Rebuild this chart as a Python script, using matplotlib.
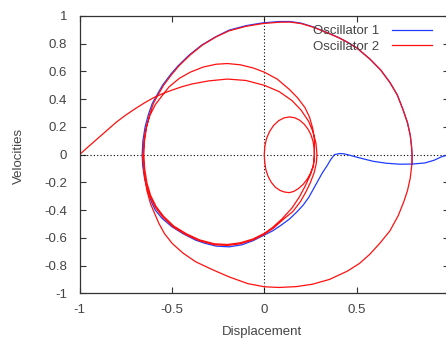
import matplotlib
matplotlib.use("Agg")
import matplotlib.pyplot as plt

# Oscillator 1 phase trajectory (displacement, velocity)
osc1_x = [1.00, 0.96, 0.92, 0.87, 0.80, 0.734, 0.66, 0.589, 0.52, 0.462, 0.43, 0.408,
          0.38, 0.36, 0.34, 0.315, 0.29, 0.265, 0.24, 0.21, 0.175, 0.136, 0.09, 0.045,
          0.0, -0.06, -0.12, -0.19, -0.26, -0.32, -0.371, -0.44, -0.50, -0.553, -0.59,
          -0.607, -0.63, -0.648, -0.658, -0.661,
          -0.657, -0.645, -0.627, -0.606, -0.581, -0.551, -0.506, -0.467, -0.405, -0.339,
          -0.263, -0.19, -0.10, -0.01, 0.08, 0.14, 0.20, 0.263, 0.33, 0.40, 0.444, 0.50,
          0.571, 0.63, 0.68, 0.72, 0.752, 0.775, 0.79, 0.797, 0.80, 0.80]
osc1_v = [0.00, -0.015, -0.04, -0.06, -0.068, -0.069, -0.062, -0.048, -0.025, -0.004, 0.006, 0.008,
          0.0, -0.035, -0.08, -0.13, -0.19, -0.25, -0.31, -0.365, -0.415, -0.465, -0.51, -0.55,
          -0.58, -0.62, -0.65, -0.665, -0.66, -0.64, -0.617, -0.57, -0.52, -0.46, -0.40,
          -0.353, -0.27, -0.17, -0.08, 0.0,
          0.10, 0.20, 0.29, 0.37, 0.43, 0.50, 0.58, 0.64, 0.72, 0.79,
          0.85, 0.898, 0.93, 0.95, 0.96, 0.96, 0.948, 0.922, 0.886, 0.846, 0.816, 0.771,
          0.691, 0.611, 0.521, 0.431, 0.321, 0.231, 0.141, 0.061, 0.0, -0.068]

# Oscillator 2 phase trajectory, starting from rest at -1
osc2_x = [
    # first swing
    -1.00, -0.95, -0.90, -0.85, -0.80, -0.75, -0.70, -0.65, -0.60, -0.55, -0.50, -0.45,
    -0.39, -0.30, -0.20, -0.10, 0.00, 0.08, 0.15, 0.20, 0.24, 0.265, 0.28, 0.285,
    # inner lower half
    0.282, 0.27, 0.25, 0.225, 0.195, 0.155, 0.10, 0.05, 0.0, -0.06, -0.13, -0.20,
    -0.27, -0.35, -0.42, -0.49, -0.55, -0.59, -0.62, -0.64, -0.652, -0.656,
    # up the left side, middle arc
    -0.652, -0.64, -0.62, -0.59, -0.55, -0.516, -0.46, -0.40, -0.33, -0.26, -0.20,
    -0.13, -0.06, 0.0, 0.07, 0.136, 0.18, 0.22, 0.245, 0.262, 0.272,
    # small loop
    0.270, 0.263, 0.250, 0.232, 0.210, 0.185, 0.160, 0.136, 0.110, 0.085, 0.060, 0.038,
    0.020, 0.008, 0.002, 0.0, 0.003, 0.012, 0.028, 0.050, 0.078, 0.107, 0.136, 0.165,
    0.192, 0.216, 0.236, 0.252, 0.263, 0.270, 0.272,
    # inner lower half again
    0.266, 0.248, 0.222, 0.19, 0.15, 0.095, 0.045, 0.0, -0.06, -0.13, -0.20, -0.27,
    -0.35, -0.42, -0.49, -0.545, -0.585, -0.615, -0.635, -0.647, -0.652,
    # big orbit
    -0.648, -0.637, -0.62, -0.60, -0.575, -0.545, -0.50, -0.462, -0.40, -0.335, -0.26,
    -0.19, -0.10, -0.01, 0.08, 0.14, 0.20, 0.263, 0.33, 0.40, 0.444, 0.50, 0.571,
    0.63, 0.68, 0.72, 0.752, 0.775, 0.79, 0.797, 0.80,
    0.798, 0.79, 0.775, 0.755, 0.725, 0.68, 0.625, 0.57, 0.515, 0.45, 0.353, 0.26,
    0.172, 0.08, 0.0, -0.09, -0.19, -0.28, -0.371, -0.44, -0.498, -0.54, -0.57,
    -0.595, -0.616, -0.635, -0.648, -0.655, -0.656]
osc2_v = [
    0.000, 0.060, 0.118, 0.175, 0.235, 0.285, 0.330, 0.372, 0.410, 0.440, 0.465, 0.488,
    0.510, 0.532, 0.545, 0.535, 0.500, 0.455, 0.390, 0.320, 0.240, 0.160, 0.080, 0.0,
    -0.06, -0.13, -0.20, -0.27, -0.34, -0.41, -0.47, -0.53, -0.575, -0.615, -0.643, -0.655,
    -0.65, -0.622, -0.58, -0.525, -0.45, -0.38, -0.30, -0.21, -0.11, 0.0,
    0.10, 0.19, 0.28, 0.36, 0.43, 0.488, 0.55, 0.595, 0.632, 0.652, 0.657,
    0.648, 0.625, 0.595, 0.545, 0.47, 0.41, 0.34, 0.27, 0.19, 0.10,
    -0.04, -0.09, -0.135, -0.178, -0.215, -0.245, -0.265, -0.274, -0.270, -0.258, -0.235, -0.200,
    -0.155, -0.105, -0.05, 0.0, 0.06, 0.115, 0.165, 0.210, 0.245, 0.265, 0.272, 0.266,
    0.248, 0.220, 0.185, 0.145, 0.100, 0.050, 0.0,
    -0.08, -0.15, -0.225, -0.305, -0.385, -0.465, -0.525, -0.568, -0.608, -0.636, -0.648, -0.643,
    -0.615, -0.572, -0.515, -0.445, -0.375, -0.295, -0.205, -0.105, 0.0,
    0.10, 0.20, 0.29, 0.37, 0.43, 0.50, 0.58, 0.64, 0.72, 0.79, 0.85,
    0.893, 0.925, 0.945, 0.955, 0.956, 0.945, 0.92, 0.885, 0.845, 0.815, 0.77, 0.69,
    0.61, 0.52, 0.43, 0.32, 0.23, 0.14, 0.06, 0.0,
    -0.08, -0.17, -0.26, -0.34, -0.44, -0.55, -0.64, -0.72, -0.785, -0.84, -0.90, -0.935,
    -0.952, -0.958, -0.953, -0.93, -0.882, -0.83, -0.773, -0.71, -0.641, -0.57, -0.497,
    -0.42, -0.353, -0.26, -0.16, -0.06, 0.0]

x_ticks = [-1, -0.5, 0, 0.5]
x_tick_labels = ["-1", "-0.5", "0", "0.5"]
y_ticks = [1, 0.8, 0.6, 0.4, 0.2, 0, -0.2, -0.4, -0.6, -0.8, -1]
y_tick_labels = ["1", "0.8", "0.6", "0.4", "0.2", "0", "-0.2", "-0.4", "-0.6", "-0.8", "-1"]

plt.rcParams["font.family"] = ["Liberation Sans", "DejaVu Sans"]
plt.rcParams["font.size"] = 9.5

text_color = "#444444"
frame_color = "#333333"

fig = plt.figure(figsize=(4.46, 3.40), dpi=100)
ax = fig.add_axes([0.1783, 0.1374, 0.8285, 0.8156])

# zero axes
ax.axhline(0, color="black", linestyle=(0, (1, 2)), linewidth=0.8)
ax.axvline(0, color="black", linestyle=(0, (1, 2)), linewidth=0.8)

ax.plot(osc1_x, osc1_v, color="#1f3cff", linewidth=0.9, label="Oscillator 1")
ax.plot(osc2_x, osc2_v, color="#ff1010", linewidth=0.9, label="Oscillator 2")

ax.set_xlim(-1, 1)
ax.set_ylim(-1, 1)
ax.set_xticks(x_ticks)
ax.set_xticklabels(x_tick_labels)
ax.set_yticks(y_ticks)
ax.set_yticklabels(y_tick_labels)
ax.tick_params(direction="in", length=4, width=0.8, colors=frame_color,
               labelcolor=text_color, top=True, right=True, pad=8)
ax.tick_params(axis="y", pad=9)
for spine in ax.spines.values():
    spine.set_color(frame_color)
    spine.set_linewidth(0.9)

ax.set_xlabel("Displacement", color=text_color)
ax.set_ylabel("Velocities", color=text_color)
ax.xaxis.set_label_coords(0.4926, -0.118)
ax.yaxis.set_label_coords(-0.148, 0.495)

leg = ax.legend(loc="upper right", bbox_to_anchor=(432 / 446, 1 - 25 / 340),
                bbox_transform=fig.transFigure, frameon=False, markerfirst=False,
                handlelength=3.0, handletextpad=1.0, borderpad=0, borderaxespad=0,
                labelspacing=0.25)
for t in leg.get_texts():
    t.set_color(text_color)

fig.savefig("out.png", dpi=100)
